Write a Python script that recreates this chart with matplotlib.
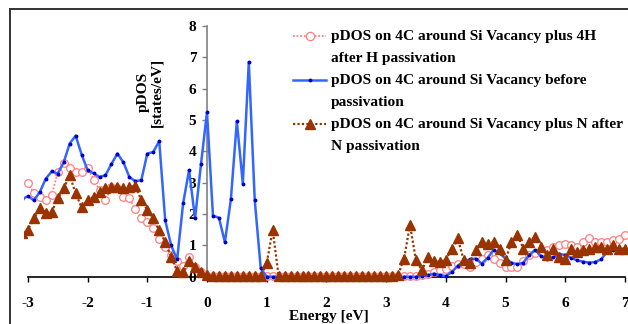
import numpy as np
import matplotlib
matplotlib.use("Agg")
import matplotlib.pyplot as plt
from matplotlib.lines import Line2D
from matplotlib.patches import Rectangle

plt.rcParams['font.family'] = ['Liberation Serif', 'DejaVu Serif']
plt.rcParams['font.weight'] = 'bold'

energy = np.round(np.arange(-3.1, 7.01, 0.1), 1)

pdos_4h = [np.nan, 3.0, 2.66, 2.53, 2.45, 2.6, 3.35, 3.62, 3.46, 3.35, 3.35,
           3.46, 3.1, 2.77, 2.45, 2.85, 2.82, 2.53, 2.5, 2.15, 1.86,
           1.75, 1.55, 1.2, 0.95, 0.7, 0.5, 0.35, 0.62, 0.32, 0.16,
           0.02, 0.02, 0.02, 0.02, 0.02, 0.02, 0.02, 0.02, 0.02, 0.02,
           0.02, 0.02, 0.02, 0.02, 0.02, 0.02, 0.02, 0.02, 0.02, 0.02,
           0.02, 0.02, 0.02, 0.02, 0.02, 0.02, 0.02, 0.02, 0.02, 0.02,
           0.02, 0.02, 0.02, 0.02, 0.02, 0.02, 0.05, 0.1, 0.16, 0.2,
           0.25, 0.35, 0.42, 0.42, 0.32, 0.48, 0.58, 0.69, 0.58, 0.45,
           0.32, 0.3, 0.32, 0.5, 0.68, 0.75, 0.8, 0.85, 0.95, 1.0,
           1.05, 1.02, 0.95, 1.1, 1.25, 1.12, 1.12, 1.12, 1.18, 1.2,
           1.33]

pdos_before = [2.47, 2.57, 2.44, 2.7, 3.13, 3.36, 3.29, 3.65, 4.25, 4.5, 3.9,
               3.4, 3.3, 3.18, 3.24, 3.6, 3.93, 3.65, 3.18, 3.05, 3.08,
               3.93, 3.98, 4.33, 1.8, 1.0, 0.55, 2.34, 3.4, 1.86, 3.6,
               5.25, 1.95, 1.88, 1.1, 2.47, 4.96, 2.97, 6.85, 2.44, 0.27,
               0.0, 0.0, 0.0, 0.0, 0.0, 0.0, 0.0, 0.0, 0.0, 0.0,
               0.0, 0.0, 0.0, 0.0, 0.0, 0.0, 0.0, 0.0, 0.0, 0.0,
               0.0, 0.0, 0.0, 0.0, 0.0, 0.0, 0.02, 0.05, 0.1, 0.05,
               0.02, 0.15, 0.35, 0.5, 0.55, 0.58, 0.42, 0.6, 0.85, 0.75,
               0.58, 0.45, 0.4, 0.45, 0.7, 0.85, 0.65, 0.58, 0.62, 0.72,
               0.7, 0.6, 0.52, 0.48, 0.45, 0.47, 0.55, 0.8, 0.86, 0.88,
               0.9]

pdos_n = [1.4, 1.5, 1.86, 2.18, 2.04, 2.07, 2.5, 2.82, 3.24, 2.66, 2.21,
          2.45, 2.55, 2.71, 2.82, 2.87, 2.87, 2.82, 2.87, 2.89, 2.45,
          2.13, 1.86, 1.49, 1.12, 0.62, 0.18, 0.16, 0.5, 0.32, 0.16,
          0.05, 0.02, 0.02, 0.02, 0.02, 0.02, 0.02, 0.02, 0.02, 0.02,
          0.43, 1.5, 0.02, 0.02, 0.02, 0.02, 0.02, 0.02, 0.02, 0.02,
          0.02, 0.02, 0.02, 0.02, 0.02, 0.02, 0.02, 0.02, 0.02, 0.02,
          0.02, 0.02, 0.05, 0.58, 1.65, 0.53, 0.2, 0.64, 0.5, 0.48,
          0.53, 0.9, 1.22, 0.53, 0.43, 0.85, 1.12, 1.06, 1.12, 0.9,
          0.53, 1.12, 1.33, 0.9, 1.12, 1.28, 0.96, 0.69, 0.87, 0.64,
          0.55, 0.87, 0.8, 0.85, 0.9, 0.94, 0.96, 0.9, 1.0, 0.87,
          0.9]

xticks = [-3, -2, -1, 0, 1, 2, 3, 4, 5, 6, 7]
yticks = [0, 1, 2, 3, 4, 5, 6, 7, 8]
legend_labels = [["pDOS on 4C around Si Vacancy plus 4H", "after H passivation"],
                 ["pDOS on 4C around Si Vacancy before", "passivation"],
                 ["pDOS on 4C around Si Vacancy plus N after", "N passivation"]]

PINK = '#FF7F7F'
BLUE = '#3366FF'
DBLUE = '#0000CC'
BROWN = '#993300'
FS = 11.1

W, H = 628, 324
fig = plt.figure(figsize=(W / 100, H / 100), dpi=100)
ax = fig.add_axes([23.7 / W, (H - 292.4) / H, (627.9 - 23.7) / W, (292.4 - 16.6) / H])
ax.set_xlim(-3.07, 7.05)
ax.set_ylim(-0.5, 8.3)

ax.plot(energy, pdos_4h, color=PINK, ls=(0, (1, 1)), lw=1.3, marker='o',
        ms=5.5, mfc='white', mec=PINK, mew=0.9, zorder=3)
ax.plot(energy, pdos_before, color=BLUE, lw=1.8, marker='o', ms=1.8,
        mfc=DBLUE, mec=DBLUE, zorder=4)
ax.plot(energy, pdos_n, color=BROWN, ls=(0, (1, 1)), lw=1.6, marker='^',
        ms=6.5, mfc=BROWN, mec=BROWN, zorder=5)

for s in ['top', 'right']:
    ax.spines[s].set_visible(False)
ax.spines['left'].set_position(('data', 0))
ax.spines['bottom'].set_position(('data', 0))
ax.spines['left'].set_bounds(0, 8)
ax.spines['bottom'].set_bounds(-3, 7)
ax.spines['left'].set_color('#808080')
ax.spines['left'].set_linewidth(1.2)
ax.spines['bottom'].set_color('black')
ax.spines['bottom'].set_linewidth(1.2)
ax.set_xticks(xticks)
ax.set_yticks(yticks)
ax.set_xticklabels([str(t) for t in xticks])
ax.set_yticklabels([str(t) for t in yticks])
ax.tick_params(axis='x', direction='out', length=3.6, width=1, pad=11,
               labelsize=FS, colors='black')
ax.tick_params(axis='y', direction='out', length=3.6, width=1, pad=4,
               labelsize=FS, colors='black')
ax.tick_params(axis='y', color='#808080')
for lab in ax.get_xticklabels() + ax.get_yticklabels():
    lab.set_fontweight('bold')
ax.patch.set_visible(False)

fig.text(329 / W, 1 - 316.5 / H, "Energy [eV]", ha='center', va='center',
         fontsize=FS, fontweight='bold')
fig.text(150 / W, 1 - 92 / H, "pDOS\n[states/eV]", ha='center', va='center',
         rotation=90, multialignment='center', fontsize=FS, fontweight='bold',
         linespacing=1.05)

# legend drawn manually
styles = [dict(color=PINK, ls=(0, (1, 1)), lw=1.3, marker='o', ms=6, mfc='white', mec=PINK, mew=0.9),
          dict(color=BLUE, lw=1.8, marker='o', ms=1.8, mfc=DBLUE, mec=DBLUE),
          dict(color=BROWN, ls=(0, (1, 1)), lw=1.6, marker='^', ms=7, mfc=BROWN, mec=BROWN)]
ys = [35, 79, 123]
for lines, st, y in zip(legend_labels, styles, ys):
    yy = 1 - (y + 1) / H
    line_st = {k: v for k, v in st.items() if k not in ('marker', 'ms', 'mfc', 'mec', 'mew')}
    fig.add_artist(Line2D([293 / W, 326 / W], [yy, yy], transform=fig.transFigure, **line_st))
    mk_st = {k: v for k, v in st.items() if k not in ('ls', 'lw')}
    fig.add_artist(Line2D([309.5 / W], [yy], transform=fig.transFigure, ls='none', **mk_st))
    for i, txt in enumerate(lines):
        fig.text(331 / W, 1 - (y + 22 * i) / H, txt, ha='left', va='center_baseline',
                 fontsize=FS, fontweight='bold')

fig.add_artist(Rectangle((10 / W, -0.1), 1.2, (H - 9) / H + 0.1, transform=fig.transFigure,
                         fill=False, ec='#333333', lw=1.4))

fig.savefig("out.png", dpi=100)
